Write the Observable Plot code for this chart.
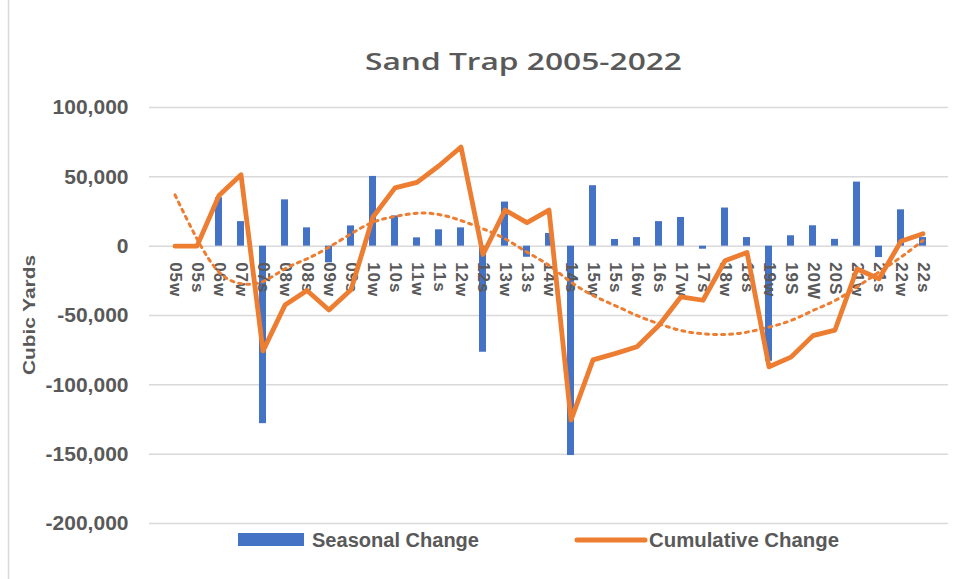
<!DOCTYPE html>
<html>
<head>
<meta charset="utf-8">
<script src="https://cdn.jsdelivr.net/npm/d3@7"></script>
<script src="https://cdn.jsdelivr.net/npm/@observablehq/plot@0.6"></script>
<style>
  body { margin: 0; background: #fff; }
  #wrap { position: relative; width: 964px; height: 579px; overflow: hidden; font-family: "Liberation Sans", Arial, sans-serif; }
  #chart { position: absolute; left: 0; top: 0; }
  #overlay { position: absolute; left: 0; top: 0; pointer-events: none; }
  #chart g[aria-label="text"] text { letter-spacing: 1px; }
</style>
</head>
<body>
<div id="wrap"><div id="chart"></div><svg id="overlay" width="964" height="579"></svg></div>
<script>
const categories = ["05w","05s","06w","07w","07s","08w","08s","09w","09s","10w","10s","11w","11s","12w","12s","13w","13s","14w","14s","15w","15s","16w","16s","17w","17s","18w","18s","19w","19S","20W","20S","21w","21s","22w","22s"];

const seasonal = [0, 0, 35000, 17700, -128000, 33400, 13200, -12000, 14600, 50300, 21800, 6000, 11800, 13200, -76500, 31800, -8000, 9200, -151000, 43600, 4800, 6200, 17700, 20700, -2200, 27500, 6200, -83000, 7500, 14700, 4900, 46200, -8200, 26200, 6200];

const cumulative = [0, 0, 36500, 51500, -75500, -42500, -32000, -46000, -31500, 21000, 42000, 46000, 58000, 71500, -6000, 26000, 17000, 26000, -125500, -82000, -77500, -72500, -57000, -36500, -39000, -10500, -4500, -87000, -80000, -64500, -60500, -16500, -23500, 3500, 9000];

const trend = [37000, 5300, -18700, -27000, -25500, -16300, -9100, -700, 8900, 17300, 21400, 23800, 22800, 18500, 12500, 5300, -4300, -13900, -25900, -35500, -42800, -50000, -56000, -60800, -63200, -63700, -62000, -58400, -53600, -46400, -39200, -29500, -18700, -7900, 4100];

const yTicks = [-200000, -150000, -100000, -50000, 0, 50000, 100000];

const title = "Sand Trap 2005-2022";
const yLabel = "Cubic Yards";
const seriesNames = ["Seasonal Change", "Cumulative Change"];

const BLUE = "#4472c4", ORANGE = "#ed7d31", GRAY = "#595959", GRID = "#d9d9d9";

const data = categories.map((c, i) => ({cat: c, seasonal: seasonal[i], cumulative: cumulative[i], trend: trend[i]}));
const fmt = d3.formatLocale({decimal: ".", thousands: ",", grouping: [3], currency: ["$", ""], minus: "-"}).format(",");

const chart = Plot.plot({
  width: 964, height: 579,
  marginTop: 107, marginBottom: 56, marginLeft: 149, marginRight: 16,
  style: {background: "transparent", color: GRAY, fontFamily: "Liberation Sans, Arial, sans-serif"},
  x: {type: "band", domain: categories, paddingInner: 0.69, paddingOuter: 0.345, axis: null},
  y: {domain: [-200000, 100000]},
  marks: [
    Plot.ruleY(yTicks, {stroke: GRID, strokeWidth: 1.5}),
    Plot.axisY({ticks: yTicks, tickSize: 0, tickPadding: 21, tickFormat: fmt, label: null, fontSize: 21, fontWeight: "bold", fill: GRAY}),
    Plot.barY(data, {x: "cat", y: "seasonal", fill: BLUE}),
    Plot.text(data, {x: "cat", y: () => 0, text: "cat", rotate: 90, textAnchor: "start", dy: 16, fontSize: 17, fontWeight: "bold", fill: GRAY}),
    Plot.line(data, {x: "cat", y: "cumulative", stroke: ORANGE, strokeWidth: 4.8, strokeLinejoin: "round", strokeLinecap: "round"}),
    Plot.line(data, {x: "cat", y: "trend", curve: "natural", stroke: ORANGE, strokeWidth: 3, strokeDasharray: "3,5"})
  ]
});
document.getElementById("chart").appendChild(chart);

const ov = d3.select("#overlay");
ov.append("line").attr("x1", 8.5).attr("x2", 8.5).attr("y1", 0).attr("y2", 579).attr("stroke", GRID).attr("stroke-width", 1.5);
ov.append("text").attr("x", 365).attr("y", 70).attr("textLength", 317).attr("lengthAdjust", "spacingAndGlyphs")
  .attr("font-family", "Open Sans, Noto Sans, sans-serif").attr("font-size", 23).attr("font-weight", 600).attr("fill", GRAY).text(title);
ov.append("text").attr("transform", "translate(35,315) rotate(-90)").attr("text-anchor", "middle")
  .attr("textLength", 120).attr("lengthAdjust", "spacingAndGlyphs")
  .attr("font-family", "Liberation Sans, Arial, sans-serif").attr("font-weight", "bold").attr("font-size", 17).attr("fill", GRAY).text(yLabel);
// legend
ov.append("rect").attr("x", 238).attr("y", 533).attr("width", 66).attr("height", 13).attr("fill", BLUE);
ov.append("text").attr("x", 312).attr("y", 547).attr("textLength", 167).attr("lengthAdjust", "spacingAndGlyphs")
  .attr("font-family", "Liberation Sans, Arial, sans-serif").attr("font-weight", "bold").attr("font-size", 20).attr("fill", GRAY).text(seriesNames[0]);
ov.append("line").attr("x1", 577).attr("x2", 645).attr("y1", 540).attr("y2", 540).attr("stroke", ORANGE).attr("stroke-width", 5).attr("stroke-linecap", "round");
ov.append("text").attr("x", 649).attr("y", 547).attr("textLength", 190).attr("lengthAdjust", "spacingAndGlyphs")
  .attr("font-family", "Liberation Sans, Arial, sans-serif").attr("font-weight", "bold").attr("font-size", 20).attr("fill", GRAY).text(seriesNames[1]);
</script>
</body>
</html>
